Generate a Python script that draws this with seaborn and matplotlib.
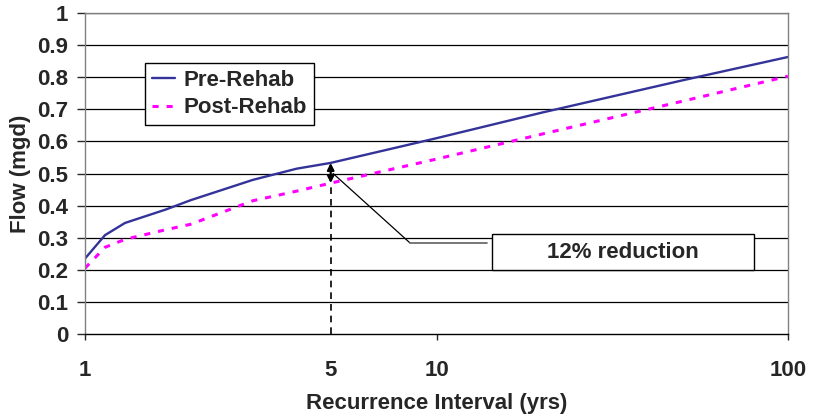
import matplotlib
matplotlib.use("Agg")
import matplotlib.pyplot as plt
import seaborn as sns
import pandas as pd
from matplotlib.patches import Rectangle

# ---- data ----
interval = [1, 1.14, 1.3, 1.7, 2, 3, 4, 5, 10, 20, 50, 100]
pre_rehab = [0.235, 0.308, 0.346, 0.388, 0.417, 0.48, 0.515, 0.533, 0.61, 0.69, 0.79, 0.863]
post_rehab = [0.205, 0.27, 0.295, 0.325, 0.342, 0.415, 0.445, 0.47, 0.545, 0.623, 0.725, 0.803]
series_names = ["Pre-Rehab", "Post-Rehab"]
y_ticks = [0, 0.1, 0.2, 0.3, 0.4, 0.5, 0.6, 0.7, 0.8, 0.9, 1]
y_tick_labels = ["0", "0.1", "0.2", "0.3", "0.4", "0.5", "0.6", "0.7", "0.8", "0.9", "1"]
x_major = [1, 10, 100]
x_major_labels = ["1", "10", "100"]
x_minor = [5]
x_minor_labels = ["5"]
note_x = 5
note_text = "12% reduction"

df = pd.DataFrame({
    "x": interval * 2,
    "y": pre_rehab + post_rehab,
    "series": [series_names[0]] * len(interval) + [series_names[1]] * len(interval),
})

sns.set_style("white")
plt.rcParams["font.family"] = ["Liberation Sans", "DejaVu Sans"]
plt.rcParams["font.weight"] = "bold"

fig = plt.figure(figsize=(8.13, 4.2), dpi=100)
ax = fig.add_axes([85 / 813, 1 - 334 / 420, (788 - 85) / 813, (334 - 13) / 420])

sns.lineplot(data=df, x="x", y="y", hue="series", style="series",
             palette={"Pre-Rehab": "#333399", "Post-Rehab": "#FF00FF"},
             dashes={"Pre-Rehab": "", "Post-Rehab": (2.0, 2.6)},
             ax=ax, legend=False, sort=False)
lines = ax.get_lines()
lines[0].set_linewidth(1.7)
lines[1].set_linewidth(2.2)

ax.set_xscale("log")
ax.set_xlim(1, 100)
ax.set_ylim(0, 1)

for v in y_ticks[1:]:
    ax.axhline(v, color="black", lw=0.9, zorder=0)

ax.set_yticks(y_ticks, labels=y_tick_labels)
ax.set_xticks(x_major, labels=x_major_labels)
ax.set_xticks(x_minor, labels=x_minor_labels, minor=True)
ax.tick_params(axis="y", direction="out", length=6, width=1, pad=6, labelsize=16, left=True)
ax.tick_params(axis="x", which="major", direction="out", length=4.5, width=1, pad=14, labelsize=16, bottom=True)
ax.tick_params(axis="x", which="minor", length=0, pad=18.5, labelsize=16)
for lab in ax.get_xticklabels(minor=True) + ax.get_xticklabels() + ax.get_yticklabels():
    lab.set_fontweight("bold")

ax.set_xlabel("Recurrence Interval (yrs)", fontsize=16, fontweight="bold")
ax.set_ylabel("Flow (mgd)", fontsize=16, fontweight="bold")
ax.xaxis.set_label_coords(0.5, -0.183)
ax.yaxis.set_label_coords(-0.077, 0.5)

for s in ["left", "top", "right"]:
    ax.spines[s].set_color("#808080")
    ax.spines[s].set_linewidth(1)
ax.spines["bottom"].set_color("black")
ax.spines["bottom"].set_linewidth(1)

# annotation
ax.plot([note_x, note_x], [0, post_rehab[7]], color="black", lw=1.2, ls=(0, (4, 3)), zorder=1)
ax.annotate("", xy=(note_x, pre_rehab[7]), xytext=(note_x, post_rehab[7]),
            arrowprops=dict(arrowstyle="<|-|>", color="black", lw=1.6,
                            mutation_scale=10, shrinkA=0, shrinkB=0))
ax.plot([5.08, 8.41, 13.9], [0.50, 0.2835, 0.2835], color="black", lw=0.9)
ax.plot([8.41, 13.9], [0.2835, 0.2835], color="#808080", lw=1.2)
ax.add_patch(Rectangle((14.38, 0.199), 80 - 14.38, 0.3115 - 0.199,
                       facecolor="white", edgecolor="black", lw=1, zorder=5))
ax.text(34.0, 0.255, note_text, ha="center", va="center", fontsize=16,
        fontweight="bold", zorder=6)

# legend
leg = ax.legend(lines, series_names, loc="upper left",
                bbox_to_anchor=(145 / 813, 1 - 63 / 420), bbox_transform=fig.transFigure,
                borderaxespad=0, frameon=True, fancybox=False, framealpha=1,
                edgecolor="black", fontsize=16, handlelength=1.05, handletextpad=0.4,
                borderpad=0.3, labelspacing=0.3)
leg.get_frame().set_linewidth(1)
for t in leg.get_texts():
    t.set_fontweight("bold")

fig.savefig("out.png", dpi=100)
